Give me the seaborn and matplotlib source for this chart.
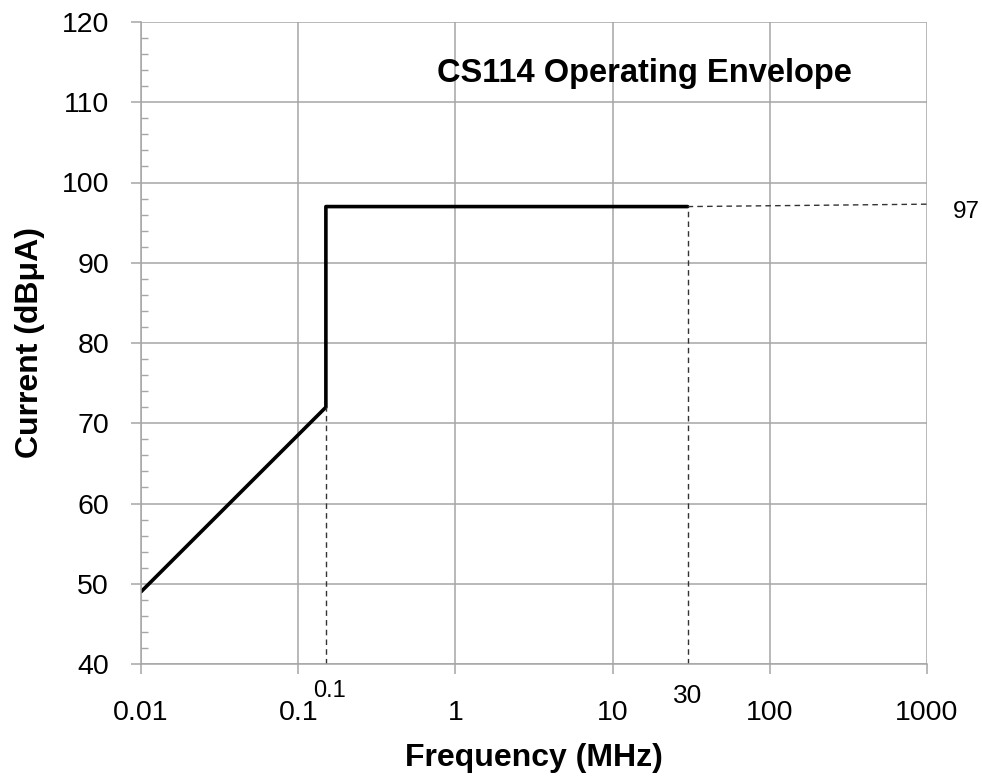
import matplotlib
matplotlib.use("Agg")
import matplotlib.pyplot as plt
import seaborn as sns
import pandas as pd
import numpy as np
from matplotlib.ticker import FixedLocator, MultipleLocator, NullLocator

# Data
freq_mhz = [0.01, 0.15, 0.15, 30]
current_dbua = [49, 72, 97, 97]
corner_freq = 0.15
corner_level = 72
max_freq = 30
max_level = 97
x_ticks = [0.01, 0.1, 1, 10, 100, 1000]
x_tick_labels = ["0.01", "0.1", "1", "10", "100", "1000"]
y_ticks = [40, 50, 60, 70, 80, 90, 100, 110, 120]

sns.set_style("white")
plt.rcParams['font.family'] = ['Liberation Sans', 'DejaVu Sans']
plt.rcParams['text.color'] = 'black'
plt.rcParams['axes.labelcolor'] = 'black'

fig = plt.figure(figsize=(9.82, 7.78), dpi=100)
ax = fig.add_axes([141/982, 1 - 664/778, (927-141)/982, (664-22)/778])

df = pd.DataFrame({"Frequency": freq_mhz, "Current": current_dbua})
sns.lineplot(data=df, x="Frequency", y="Current", sort=False, color="black",
             linewidth=2.6, ax=ax, estimator=None)

ax.set_xscale("log")
ax.set_xlim(0.01, 1000)
ax.set_ylim(40, 120)

dash_kw = dict(color="#333333", linewidth=1.0, linestyle=(0, (4, 3)))
ax.plot([corner_freq, corner_freq], [40, corner_level], **dash_kw)
ax.plot([max_freq, max_freq], [40, max_level], **dash_kw)
ax.plot([max_freq, 1000], [max_level, max_level + 0.3], **dash_kw)

ax.xaxis.set_major_locator(FixedLocator(x_ticks))
ax.set_xticklabels(x_tick_labels)
ax.xaxis.set_minor_locator(NullLocator())
ax.yaxis.set_major_locator(FixedLocator(y_ticks))
ax.yaxis.set_minor_locator(MultipleLocator(2))

ax.grid(True, which="major", color="#a6a6a6", linewidth=1.1)
for s in ["top", "right"]:
    ax.spines[s].set_visible(False)
for s in ["left", "bottom"]:
    ax.spines[s].set_color("#a6a6a6")
    ax.spines[s].set_linewidth(1.1)

ax.tick_params(axis="x", which="major", direction="out", length=7, width=1.1,
               color="#a6a6a6", labelsize=20.5, pad=19, labelcolor="black")
ax.tick_params(axis="y", which="major", direction="out", length=7, width=1.1,
               color="#a6a6a6", labelsize=20.5, pad=16, labelcolor="black")
ax.tick_params(axis="y", which="minor", direction="in", length=5, width=1.0,
               color="#a6a6a6", left=True)
ax.tick_params(axis="x", which="major", bottom=True)
ax.tick_params(axis="y", which="major", left=True)

ax.set_xlabel("Frequency (MHz)", fontsize=23, fontweight="bold", labelpad=12,
              color="black")
ax.set_ylabel("Current (dBμA)", fontsize=23, fontweight="bold", labelpad=12,
              color="black")

ax.text(0.64, 0.92, "CS114 Operating Envelope", transform=ax.transAxes,
        fontsize=23.5, fontweight="bold", ha="center", va="center",
        color="black")

ax.text(corner_freq * 1.05, -0.042, "0.1", transform=ax.get_xaxis_transform(),
        fontsize=17, ha="center", va="center", color="black")
ax.text(max_freq, -0.05, "30", transform=ax.get_xaxis_transform(),
        fontsize=19, ha="center", va="center", color="black")
ax.text(1.05, max_level - 0.7, "97", transform=ax.get_yaxis_transform(),
        fontsize=17.5, ha="center", va="center", color="black")

fig.savefig("out.png", dpi=100)
